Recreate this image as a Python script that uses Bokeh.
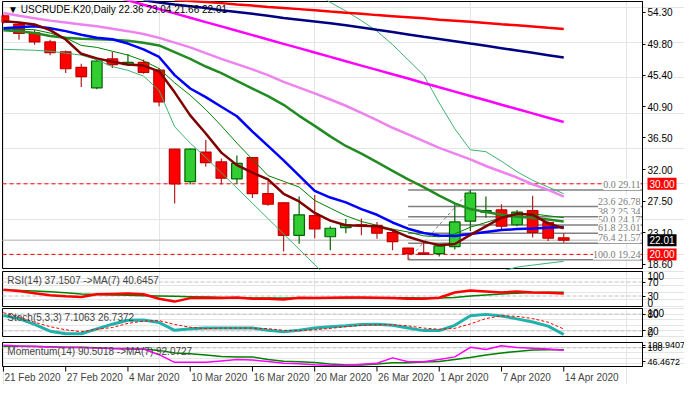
import numpy as np
from bokeh.plotting import figure
from bokeh.models import (Range1d, FixedTicker, Label, LabelSet, ColumnDataSource,
                          NumeralTickFormatter, PrintfTickFormatter, LinearAxis)
from bokeh.layouts import column
from bokeh.embed import file_html
from bokeh.resources import INLINE

nan = float("nan")

# ---------------- data ----------------
symbol = "USCRUDE.K20"
timeframe = "Daily"
dates = ["21 Feb 2020", "24 Feb 2020", "25 Feb 2020", "26 Feb 2020", "27 Feb 2020", "28 Feb 2020",
         "2 Mar 2020", "3 Mar 2020", "4 Mar 2020", "5 Mar 2020", "6 Mar 2020", "9 Mar 2020",
         "10 Mar 2020", "11 Mar 2020", "12 Mar 2020", "13 Mar 2020", "16 Mar 2020", "17 Mar 2020",
         "18 Mar 2020", "19 Mar 2020", "20 Mar 2020", "23 Mar 2020", "24 Mar 2020", "25 Mar 2020",
         "26 Mar 2020", "27 Mar 2020", "30 Mar 2020", "31 Mar 2020", "1 Apr 2020", "2 Apr 2020",
         "3 Apr 2020", "6 Apr 2020", "7 Apr 2020", "8 Apr 2020", "9 Apr 2020", "13 Apr 2020",
         "14 Apr 2020"]
date_ticks = [0, 4, 8, 12, 16, 20, 24, 28, 32, 36]

opens = [53.8, 52.6, 51.4, 50.1, 48.7, 46.5, 43.6, 47.7, 46.9, 47.2, 46.1, 34.9, 30.3, 34.5, 33.1,
         30.7, 33.7, 28.6, 27.3, 22.7, 25.5, 22.5, 23.8, 24.2, 24.1, 23.1, 20.9, 20.2, 20.1, 21.1,
         24.7, 26.0, 26.3, 24.2, 26.2, 24.5, 22.36]
highs = [54.0, 52.8, 51.8, 50.4, 48.9, 47.0, 47.6, 48.7, 48.4, 47.6, 46.4, 34.9, 35.0, 36.2, 33.6,
         34.0, 33.8, 30.4, 27.4, 28.2, 28.4, 24.0, 25.0, 25.1, 24.6, 23.3, 20.95, 21.9, 21.3, 27.2,
         29.11, 28.2, 27.1, 26.3, 28.3, 24.7, 23.04]
lows = [52.7, 50.4, 49.7, 48.2, 45.7, 43.7, 43.4, 46.4, 46.7, 45.6, 41.0, 27.2, 29.9, 32.4, 29.9,
        30.0, 28.0, 26.9, 20.4, 21.5, 22.3, 20.6, 23.0, 22.7, 22.2, 20.6, 19.24, 19.9, 19.7, 20.7,
        23.3, 25.2, 23.3, 24.0, 22.4, 21.9, 21.66]
closes = [52.9, 51.3, 50.1, 48.6, 46.3, 45.2, 47.4, 46.9, 47.2, 45.8, 41.6, 30.0, 34.9, 33.0, 30.8,
          32.9, 28.6, 27.1, 22.7, 25.6, 23.6, 23.7, 24.2, 24.1, 23.0, 21.8, 20.1, 20.0, 21.2, 24.6,
          28.7, 26.2, 24.0, 26.0, 23.1, 22.3, 22.01]

ma_maroon = [53.05, 52.85, 52.58, 51.77, 50.45, 48.42, 47.77, 47.29, 46.89, 46.75, 45.94, 42.96,
             39.7, 37.13, 34.42, 32.65, 31.57, 30.62, 28.59, 27.5, 25.88, 24.79, 24.12, 24.05,
             23.98, 23.44, 22.49, 21.81, 21.31, 21.47, 22.76, 23.98, 25.2, 25.74, 25.6, 24.39, 23.71]
ma_blue = [52.04, 52.17, 52.31, 52.04, 51.63, 51.13, 50.68, 50.48, 49.87, 49.05, 47.97, 45.4, 43.5,
           42.28, 40.92, 39.57, 37.4, 35.37, 33.33, 31.16, 29.0, 28.05, 27.37, 26.42, 25.61, 24.52,
           23.64, 23.03, 22.67, 22.62, 22.9, 23.17, 23.44, 23.58, 23.67, 23.78, 23.89]
ma_green_thin = [51.9, 51.9, 51.83, 51.36, 50.68, 49.6, 49.33, 48.78, 48.24, 47.43, 46.34, 44.31,
                 42.55, 40.52, 38.21, 35.77, 33.47, 31.16, 30.35, 29.54, 27.64, 26.55, 25.47,
                 24.66, 24.12, 23.58, 23.17, 22.63, 22.49, 22.9, 23.85, 24.52, 25.2, 25.61, 25.74,
                 25.47, 25.2]
ma_green = [51.77, 51.63, 51.36, 50.95, 50.68, 50.55, 50.48, 50.41, 50.27, 50.0, 49.6, 48.65, 47.7,
            46.62, 45.67, 44.58, 43.5, 42.41, 41.19, 39.63, 38.21, 36.72, 35.36, 34.28, 33.06,
            31.84, 30.62, 29.54, 28.32, 27.23, 26.42, 26.01, 25.61, 25.34, 25.2, 24.93, 24.66]
ma_violet = [54.2, 53.8, 53.46, 53.12, 52.85, 52.58, 52.31, 51.97, 51.63, 51.22, 50.68, 50.0, 49.33,
             48.51, 47.7, 46.95, 46.21, 45.4, 44.45, 43.63, 42.82, 41.94, 41.06, 40.04, 39.02,
             37.94, 36.99, 36.04, 35.09, 34.28, 33.47, 32.52, 31.71, 30.89, 29.94, 29.13, 28.18]
ma_magenta = [nan, nan, nan, nan, nan, nan, 57.23, 56.61, 56.0, 55.38, 54.76, 54.15, 53.53, 52.91,
              52.3, 51.68, 51.07, 50.45, 49.83, 49.22, 48.6, 47.99, 47.37, 46.75, 46.14, 45.52,
              44.91, 44.29, 43.67, 43.06, 42.44, 41.83, 41.21, 40.59, 39.98, 39.36, 38.75]
ma_navy = [nan, nan, nan, nan, nan, nan, nan, nan, nan, 56.0, 55.7, 55.4, 55.15, 54.9, 54.6, 54.35,
           54.1, 53.8, 53.5, 53.25, 53.0, 52.75, 52.48, 52.15, 51.82, 51.5, 51.17, 50.84, 50.52,
           50.2, 49.87, 49.55, 49.22, 48.89, 48.56, 48.23, 47.9]
ma_red = [nan, nan, nan, nan, nan, nan, nan, nan, nan, nan, nan, 56.05, 55.9, 55.75, 55.6, 55.4,
          55.25, 55.05, 54.9, 54.75, 54.6, 54.4, 54.25, 54.1, 53.9, 53.75, 53.6, 53.45, 53.25,
          53.1, 52.95, 52.8, 52.6, 52.45, 52.3, 52.1, 51.95]
bb_upper = [nan, nan, nan, nan, nan, nan, nan, nan, nan, nan, nan, nan, nan, nan, nan, nan, nan,
            nan, nan, nan, 57.2, 55.7, 54.48, 53.12, 51.63, 49.73, 47.56, 45.39, 41.46, 37.8,
            34.82, 34.55, 33.2, 31.7, 30.49, 29.54, 28.59]
bb_lower = [49.05, 48.99, 48.92, 48.78, 48.51, 48.24, 47.56, 46.61, 46.07, 45.26, 43.23, 38.08,
            35.77, 33.74, 31.57, 29.4, 27.23, 25.07, 22.9, 20.73, 18.56, 16.39, 15.0, 14.0, 13.5,
            13.0, 13.0, 13.5, 14.5, 15.5, 16.3, 17.0, 17.6, 18.2, 18.48, 18.75, 19.02]

price_ticks = [54.30, 49.80, 45.40, 40.90, 36.50, 32.00, 27.50, 23.10, 18.60]
alert_levels = [30.00, 20.00]

fib_low_idx = 26
fib_high_idx = 30
fib_ratios = ["0.0", "23.6", "38.2", "50.0", "61.8", "76.4", "100.0"]
fib_prices = [29.11, 26.78, 25.34, 24.17, 23.01, 21.57, 19.24]

rsi = [48, 44, 38, 32, 29, 27, 35, 36, 37, 35, 22, 14, 24, 25, 24, 26, 22, 22, 20, 25, 24, 25, 26,
       26, 25, 24, 22, 22, 25, 40, 46, 43, 40, 43, 40, 39, 37.1507]
rsi_ma = [47, 46, 44, 42, 39, 36, 34, 33, 32, 31, 30, 29, 28, 27, 26, 25, 24, 24, 24, 24, 24, 24,
          24, 25, 25, 25, 25, 24, 24, 26, 30, 33, 36, 38, 40, 40.5, 40.6457]
rsi_levels = [70, 30]

stoch_k = [75, 64, 43, 19, 10, 10, 27, 44, 58, 59, 50, 22, 28, 30, 30, 30, 30, 22, 17, 22, 30, 35,
           38, 43, 44, 40, 30, 21, 21, 40, 74, 79, 73, 63, 52, 37, 7.1063]
stoch_d = [85, 70, 51, 35, 24, 17, 26, 32, 47, 55, 57, 43, 33, 28, 30, 30, 30, 28, 22, 21, 24, 29,
           35, 40, 42, 42, 38, 30, 26, 29, 45, 64, 74, 72, 64, 51, 26.7372]
stoch_levels = [80, 20]

momentum = [109.94, 106.6, 105.5, 103, 101, 101, 99, 97.4, 97.4, 95.6, 73.4, 43.9, 43.9, 43.9, 49.4,
            55, 53, 47.6, 40.2, 38.4, 34.7, 31.7, 31.7, 36.5, 40.2, 61.2, 46.5, 46.5, 55, 65,
            101.8, 93, 107.8, 101, 98.2, 95.6, 90.5018]
momentum_ma = [105.5, 105.5, 105, 104, 102, 101.8, 100, 97, 95.6, 95.6, 90, 80, 77, 72, 66, 65, 65,
               55, 48, 46, 43, 38, 34, 34, 38, 42.8, 42.8, 45, 47, 55, 63, 72, 80, 86, 91, 92,
               92.0727]
mom_level = 100
mom_ticks = [109.9407, 100, 46.4672]

# ---------------- layout ----------------
FONT = "Liberation Sans"
FS = "10px"
CHART_W = 640          # pixels of the chart area (bars)
AXIS_W = 42            # pixels of the price-scale area on the right
X0, X1 = -0.06, 41.06  # visible bar-index window of the chart area
UX = (X1 - X0) / CHART_W
xr = Range1d(X0 - UX, X1 + AXIS_W * UX)


def panel(h, y0, y1, ext_top=1, ext_bot=1, ticks=None, fmt=None, fs=FS):
    uy = (y1 - y0) / h
    p = figure(frame_width=CHART_W + AXIS_W + 1, frame_height=h + ext_top + ext_bot,
               x_range=xr, y_range=Range1d(y0 - ext_bot * uy, y1 + ext_top * uy),
               x_axis_location=None, y_axis_location=None, output_backend="svg",
               toolbar_location=None, title=None, min_border_left=1, min_border_right=0,
               min_border_top=0, min_border_bottom=0)
    p.outline_line_color = None
    p.background_fill_color = "white"
    p.border_fill_color = "white"
    p.quad(left=[X0], right=[X1], bottom=[y0], top=[y1], fill_color=None,
           line_color="black", line_width=1)
    ax = LinearAxis(fixed_location=X1, bounds=(y0, y1))
    if ticks is not None:
        ax.ticker = FixedTicker(ticks=ticks)
    if fmt is not None:
        ax.formatter = fmt
    ax.axis_line_color = "black"
    ax.major_tick_out = 3
    ax.major_tick_in = 0
    ax.minor_tick_line_color = None
    ax.major_label_text_font = FONT
    ax.major_label_text_font_size = fs
    ax.major_label_text_color = "black"
    ax.major_label_standoff = 2
    p.add_layout(ax, "right")
    return p, uy


def side_label(p, y, text, baseline="middle", color="black", bg=None):
    p.add_layout(Label(x=X1, y=y, x_offset=5, text=text, text_align="left",
                       text_baseline=baseline, text_font=FONT, text_font_size=FS,
                       text_color=color, background_fill_color=bg,
                       padding=(2 if bg else 0)))


idx = np.arange(len(opens))
o = np.array(opens)
h = np.array(highs)
l = np.array(lows)
c = np.array(closes)
up = c >= o

# ---- main price panel ----
main, uy_main = panel(267, 18.0, 55.83, ext_top=1, ext_bot=2, ticks=price_ticks,
                      fmt=NumeralTickFormatter(format="0.00"))

main.segment(x0=[X0] * len(alert_levels), y0=alert_levels, x1=[X1] * len(alert_levels),
             y1=alert_levels, line_color="#FF0000", line_dash="4 3", line_width=1)
main.segment(x0=[X0], y0=[closes[-1]], x1=[X1], y1=[closes[-1]], line_color="#C8C8C8",
             line_width=1.5)

# fibonacci retracement
main.segment(x0=[fib_low_idx] * len(fib_prices), y0=fib_prices,
             x1=[X1] * len(fib_prices), y1=fib_prices, line_color="#808080", line_width=1.5)
main.line(x=[fib_low_idx, fib_high_idx], y=[lows[fib_low_idx], highs[fib_high_idx]],
          line_color="#808080", line_dash="3 3", line_width=1)

src_up = ColumnDataSource(dict(x=idx[up], top=c[up], bot=o[up], hi=h[up], lo=l[up]))
src_dn = ColumnDataSource(dict(x=idx[~up], top=o[~up], bot=c[~up], hi=h[~up], lo=l[~up]))
main.segment(x0="x", y0="hi", x1="x", y1="lo", source=src_up, line_color="#006400", line_width=1.2)
main.segment(x0="x", y0="hi", x1="x", y1="lo", source=src_dn, line_color="#B22222", line_width=1.2)
main.vbar(x="x", width=0.68, top="top", bottom="bot", source=src_up,
          fill_color="#32CD32", line_color="#006400", line_width=1.2)
main.vbar(x="x", width=0.68, top="top", bottom="bot", source=src_dn,
          fill_color="#FF0000", line_color="#C00000", line_width=1.2)

main.line(idx, bb_upper, line_color="#3CB371", line_width=1)
main.line(idx, bb_lower, line_color="#3CB371", line_width=1)
main.line(idx, ma_red, line_color="#FF0000", line_width=2.5)
main.line(idx, ma_navy, line_color="#000080", line_width=2.5)
main.line(idx, ma_magenta, line_color="#FF00FF", line_width=2.5)
main.line(idx, ma_violet, line_color="#EE82EE", line_width=2.5)
main.line(idx, ma_green, line_color="#228B22", line_width=2.5)
main.line(idx, ma_green_thin, line_color="#008000", line_width=1)
main.line(idx, ma_blue, line_color="#0000FF", line_width=2.5)
main.line(idx, ma_maroon, line_color="#800000", line_width=2.5)

fib_src = ColumnDataSource(dict(x=[X1] * len(fib_prices), y=fib_prices,
                                t=[f"{r} {p:.2f}" for r, p in zip(fib_ratios, fib_prices)]))
main.add_layout(LabelSet(x="x", y="y", text="t", source=fib_src, x_offset=-2,
                         text_align="right", text_baseline="bottom", text_color="#7A7A7A",
                         text_font=FONT, text_font_size=FS, background_fill_color="white"))

for lvl in alert_levels:
    side_label(main, lvl, f"{lvl:.2f}", color="white", bg="#FF0000")
side_label(main, closes[-1], f"{closes[-1]:.2f}", color="white", bg="black")

title_txt = (f"\u25BC {symbol},{timeframe}  {opens[-1]:.2f} {highs[-1]:.2f} "
             f"{lows[-1]:.2f} {closes[-1]:.2f}")
main.add_layout(Label(x=0.3, y=54.75, text=title_txt, text_baseline="middle",
                      text_font=FONT, text_font_size=FS, text_color="black"))

# ---- RSI ----
rsi_p, _ = panel(35, 0, 100, ticks=rsi_levels)
for lv in rsi_levels:
    rsi_p.segment(x0=[X0], y0=[lv], x1=[X1], y1=[lv], line_color="#C0C0C0",
                  line_dash="4 2", line_width=1)
rsi_p.line(idx, rsi_ma, line_color="#008000", line_width=1.5)
rsi_p.line(idx, rsi, line_color="#FF0000", line_width=2.5)
rsi_p.add_layout(Label(x=0.25, y=75, text=f"RSI(14) {rsi[-1]:.4f} ->MA(7) {rsi_ma[-1]:.4f}",
                       text_baseline="middle", text_font=FONT, text_font_size=FS))
side_label(rsi_p, 100, "100", baseline="top")
side_label(rsi_p, 0, "0", baseline="bottom")

# ---- Stochastic ----
sto_p, _ = panel(28, 0, 100, ticks=stoch_levels)
for lv in stoch_levels:
    sto_p.segment(x0=[X0], y0=[lv], x1=[X1], y1=[lv], line_color="#C0C0C0",
                  line_dash="4 2", line_width=1)
sto_p.line(idx, stoch_k, line_color="#20B2AA", line_width=3)
sto_p.line(idx, stoch_d, line_color="#FF0000", line_width=1, line_dash="3 2")
sto_p.add_layout(Label(x=0.25, y=69, text=f"Stoch(5,3,3) {stoch_k[-1]:.4f} {stoch_d[-1]:.4f}",
                       text_baseline="middle", text_font=FONT, text_font_size=FS))
side_label(sto_p, 100, "100", baseline="top")
side_label(sto_p, 0, "0", baseline="bottom")

# ---- Momentum (+ date strip below it) ----
MOM_LO, MOM_HI = 28.0, 120.3
mom_p, uy_mom = panel(24, MOM_LO, MOM_HI, ext_top=5, ext_bot=18, ticks=mom_ticks,
                      fmt=PrintfTickFormatter(format="%.7g"), fs="9px")
mom_p.segment(x0=[X0], y0=[mom_level], x1=[X1], y1=[mom_level], line_color="#C0C0C0",
              line_dash="4 2", line_width=1)
mom_p.line(idx, momentum_ma, line_color="#008000", line_width=1.5)
mom_p.line(idx, momentum, line_color="#FF00FF", line_width=1.5)
mom_p.add_layout(Label(x=0.25, y=86.3,
                       text=f"Momentum(14) {momentum[-1]:.4f} ->MA(7) {momentum_ma[-1]:.4f}",
                       text_baseline="middle", text_font=FONT, text_font_size=FS))

# date scale: tick marks and left-aligned date labels
mom_p.segment(x0=date_ticks, y0=[MOM_LO] * len(date_ticks), x1=date_ticks,
              y1=[MOM_LO - 5 * uy_mom] * len(date_ticks), line_color="black", line_width=1)
for i in date_ticks:
    mom_p.add_layout(Label(x=i, y=MOM_LO - 5 * uy_mom, x_offset=1, text=dates[i],
                           text_align="left", text_baseline="top", text_font=FONT,
                           text_font_size=FS))

layout = column(main, rsi_p, sto_p, mom_p, spacing=0)
open("out.html", "w").write(file_html(layout, INLINE))
